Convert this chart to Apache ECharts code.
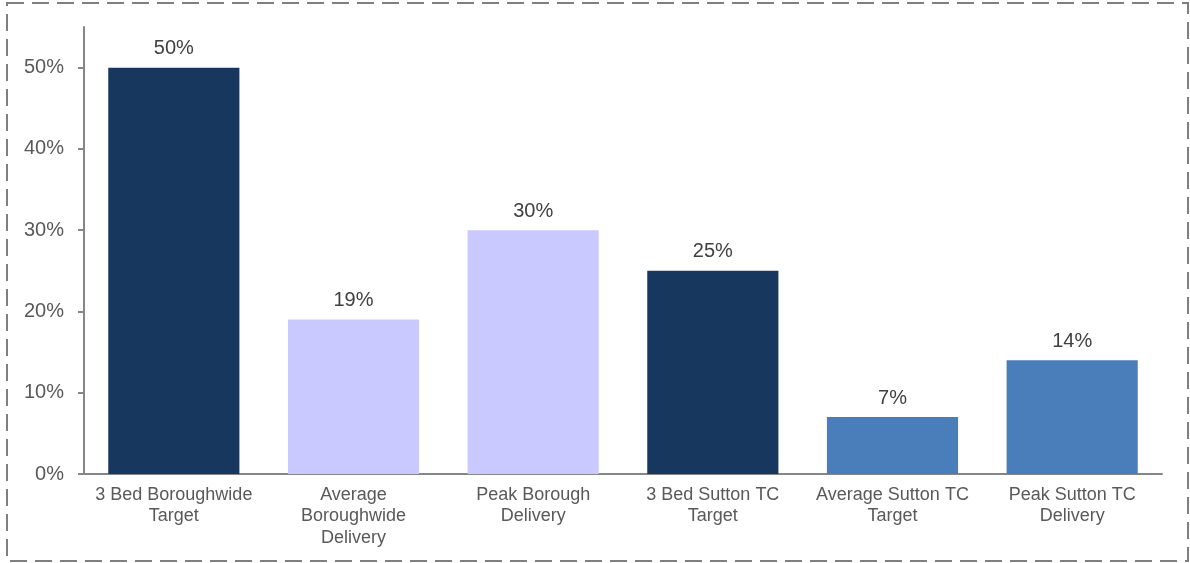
<!DOCTYPE html>
<html>
<head>
<meta charset="utf-8">
<script src="https://cdn.jsdelivr.net/npm/echarts@6/dist/echarts.min.js"></script>
<style>
  html, body { margin: 0; padding: 0; background: #fff; }
  #chart { width: 1190px; height: 563px; }
</style>
</head>
<body>
<div id="chart"></div>
<script>
// categories along the x axis
const categories = [
  '3 Bed Boroughwide\nTarget',
  'Average\nBoroughwide\nDelivery',
  'Peak Borough\nDelivery',
  '3 Bed Sutton TC\nTarget',
  'Average Sutton TC\nTarget',
  'Peak Sutton TC\nDelivery'
];
// share of 3 bed homes (%)
const values = [50, 19, 30, 25, 7, 14];
// bar colours per category
const barColors = ['#17375e', '#c9c9ff', '#c9c9ff', '#17375e', '#4a7ebb', '#4a7ebb'];
// y axis ticks
const yTicks = [0, 10, 20, 30, 40, 50];

const chart = echarts.init(document.getElementById('chart'));

chart.setOption({
  backgroundColor: '#ffffff',
  animation: false,
  textStyle: { fontFamily: 'Liberation Sans, Arial, sans-serif' },
  graphic: [{
    type: 'rect',
    shape: { x: 7, y: 3, width: 1181, height: 558 },
    style: { fill: 'none', stroke: '#7f7f7f', lineWidth: 2, lineDash: [17, 8] },
    silent: true
  }],
  grid: { left: 84, right: 28, top: 27, bottom: 89 },
  xAxis: {
    type: 'category',
    data: categories,
    axisLine: { lineStyle: { color: '#868686', width: 2 } },
    axisTick: { show: false },
    axisLabel: {
      color: '#595959',
      fontSize: 18,
      lineHeight: 21.5,
      margin: 10,
      interval: 0
    }
  },
  yAxis: {
    type: 'value',
    min: 0,
    max: 55,
    splitLine: { show: false },
    axisLine: { show: true, lineStyle: { color: '#868686', width: 2 } },
    axisTick: { show: true, length: 6, lineStyle: { color: '#868686', width: 2 }, customValues: yTicks },
    axisLabel: {
      color: '#595959',
      fontSize: 20,
      margin: 20,
      customValues: yTicks,
      formatter: v => v + '%'
    }
  },
  series: [{
    type: 'bar',
    barWidth: '73%',
    data: values.map((v, i) => ({ value: v, itemStyle: { color: barColors[i] } })),
    label: {
      show: true,
      position: 'top',
      distance: 9,
      color: '#404040',
      fontSize: 20,
      formatter: p => p.value + '%'
    }
  }]
});
</script>
</body>
</html>
